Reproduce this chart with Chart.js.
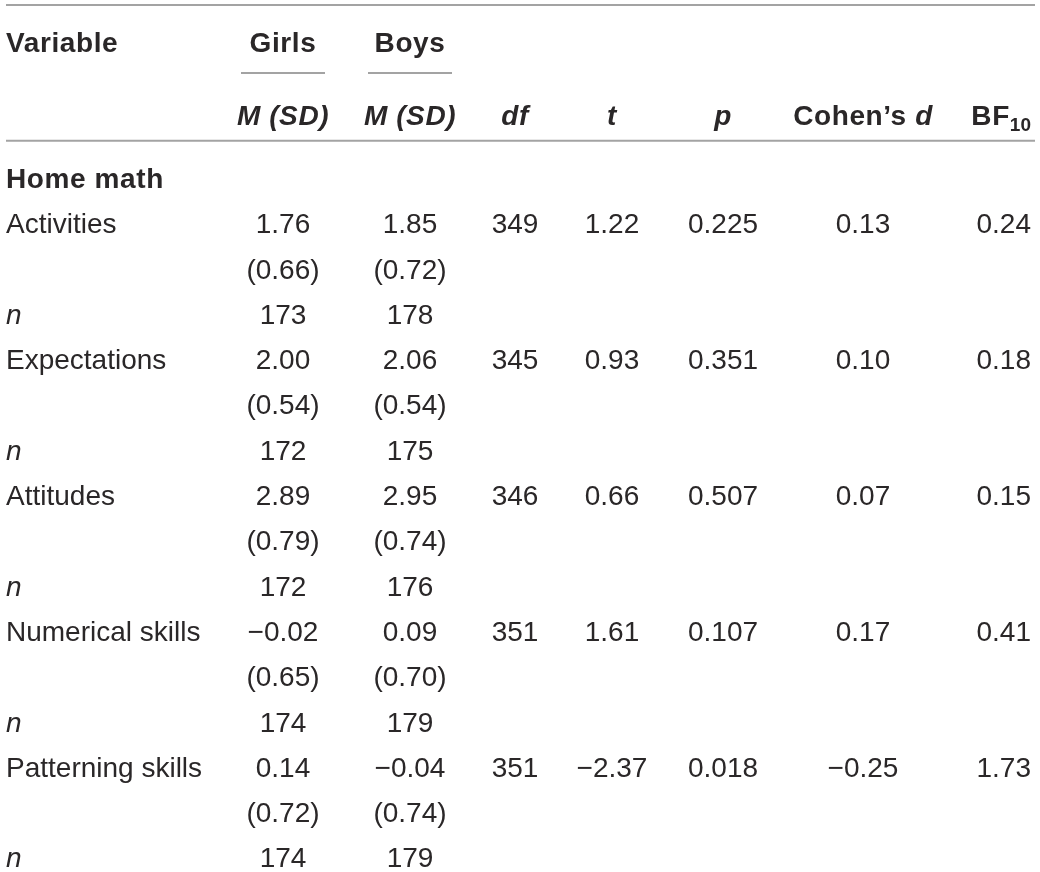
<!DOCTYPE html>
<html>
<head>
<meta charset="utf-8">
<script src="https://cdn.jsdelivr.net/npm/chart.js@4/dist/chart.umd.min.js"></script>
<style>
  html, body { margin: 0; padding: 0; background: #fff; }
  #wrap { width: 1040px; height: 872px; position: relative; }
</style>
</head>
<body>
<div id="wrap"><canvas id="tbl"></canvas></div>
<script>
// table values
const sectionTitle = 'Home math';
const variables = ['Activities', 'Expectations', 'Attitudes', 'Numerical skills', 'Patterning skills'];
const girlsM  = [1.76, 2.00, 2.89, -0.02, 0.14];
const girlsSD = [0.66, 0.54, 0.79, 0.65, 0.72];
const girlsN  = [173, 172, 172, 174, 174];
const boysM   = [1.85, 2.06, 2.95, 0.09, -0.04];
const boysSD  = [0.72, 0.54, 0.74, 0.70, 0.74];
const boysN   = [178, 175, 176, 179, 179];
const dfVals  = [349, 345, 346, 351, 351];
const tVals   = [1.22, 0.93, 0.66, 1.61, -2.37];
const pVals   = [0.225, 0.351, 0.507, 0.107, 0.018];
const cohenD  = [0.13, 0.10, 0.07, 0.17, -0.25];
const bf10    = [0.24, 0.18, 0.15, 0.41, 1.73];

// layout (x in page units, y in row units: body row 0 = "Home math")
const colX = { variable: 6, girls: 283, boys: 410, df: 515, t: 612, p: 723, d: 863, bf: 1031 };
const headY = { groups: -3.0, sub: -1.39 };
const ruleY = { top: -3.82, under: -2.32, head: -0.82 };
const rowStep = 45.3;
const firstRowPx = 178;
const FONT = '"Liberation Sans", Arial, Helvetica, sans-serif';
const SIZE = 28;
const INK = '#2a2728';
const RULE = '#a3a3a3';

const fmt = (v, d) => (v < 0 ? '\u2212' : '') + Math.abs(v).toFixed(d);
const R = (t, style) => ({ t, style: style || '' });

// build the cells column by column
const cols = {
  variable: { align: 'left', cells: [] },
  girls: { align: 'center', cells: [] },
  boys: { align: 'center', cells: [] },
  df: { align: 'center', cells: [] },
  t: { align: 'center', cells: [] },
  p: { align: 'center', cells: [] },
  d: { align: 'center', cells: [] },
  bf: { align: 'right', cells: [] }
};
const add = (key, y, runs) => cols[key].cells.push({ x: colX[key], y, runs });

// header
add('variable', headY.groups, [R('Variable', 'bold')]);
add('girls', headY.groups, [R('Girls', 'bold')]);
add('boys', headY.groups, [R('Boys', 'bold')]);
add('girls', headY.sub, [R('M (SD)', 'italic bold')]);
add('boys', headY.sub, [R('M (SD)', 'italic bold')]);
add('df', headY.sub, [R('df', 'italic bold')]);
add('t', headY.sub, [R('t', 'italic bold')]);
add('p', headY.sub, [R('p', 'italic bold')]);
add('d', headY.sub, [R('Cohen\u2019s ', 'bold'), R('d', 'italic bold')]);
add('bf', headY.sub, [R('BF', 'bold'), { t: '10', style: 'bold', sub: true }]);

// body
add('variable', 0, [R(sectionTitle, 'bold')]);
variables.forEach((name, k) => {
  const r = 1 + k * 3;
  add('variable', r, [R(name)]);
  add('girls', r, [R(fmt(girlsM[k], 2))]);
  add('boys', r, [R(fmt(boysM[k], 2))]);
  add('df', r, [R(String(dfVals[k]))]);
  add('t', r, [R(fmt(tVals[k], 2))]);
  add('p', r, [R(fmt(pVals[k], 3))]);
  add('d', r, [R(fmt(cohenD[k], 2))]);
  add('bf', r, [R(fmt(bf10[k], 2))]);
  add('girls', r + 1, [R('(' + girlsSD[k].toFixed(2) + ')')]);
  add('boys', r + 1, [R('(' + boysSD[k].toFixed(2) + ')')]);
  add('variable', r + 2, [R('n', 'italic')]);
  add('girls', r + 2, [R(String(girlsN[k]))]);
  add('boys', r + 2, [R(String(boysN[k]))]);
});

const textSets = Object.keys(cols).map(key => ({
  label: key,
  data: cols[key].cells,
  align: cols[key].align,
  isText: true,
  pointRadius: 0,
  showLine: false
}));

const ruleSet = (x0, x1, y) => ({
  label: 'rule',
  data: [{ x: x0, y }, { x: x1, y }],
  showLine: true,
  borderColor: RULE,
  borderWidth: 2,
  pointRadius: 0
});

const ruleSets = [
  ruleSet(6, 1035, ruleY.top),
  ruleSet(241, 325, ruleY.under),
  ruleSet(368, 452, ruleY.under),
  ruleSet(6, 1035, ruleY.head)
];

function setFont(ctx, run) {
  const bold = run.style.includes('bold');
  const size = run.sub ? 19 : SIZE;
  ctx.font = `${run.style} ${size}px ${FONT}`.trim();
  ctx.letterSpacing = bold && !run.sub ? '0.6px' : '0px';
}

function drawRuns(ctx, runs, x, y, align) {
  const pieces = runs.map(r => {
    setFont(ctx, r);
    return { r, w: ctx.measureText(r.t).width };
  });
  const total = pieces.reduce((a, p) => a + p.w, 0);
  let cx = align === 'left' ? x : align === 'right' ? x - total : x - total / 2;
  const base = y + SIZE * 0.355;
  pieces.forEach(p => {
    setFont(ctx, p.r);
    ctx.fillText(p.r.t, cx, p.r.sub ? base + 6 : base);
    cx += p.w;
  });
}

const cellText = {
  id: 'cellText',
  afterDatasetsDraw(chart) {
    const ctx = chart.ctx;
    ctx.save();
    ctx.fillStyle = INK;
    ctx.textAlign = 'left';
    ctx.textBaseline = 'alphabetic';
    chart.data.datasets.forEach((ds, i) => {
      if (!ds.isText) return;
      chart.getDatasetMeta(i).data.forEach((el, j) => {
        drawRuns(ctx, ds.data[j].runs, el.x, el.y, ds.align);
      });
    });
    ctx.restore();
  }
};

const yMin = -firstRowPx / rowStep;
const yMax = yMin + 872 / rowStep;

new Chart(document.getElementById('tbl'), {
  type: 'scatter',
  data: { datasets: [...ruleSets, ...textSets] },
  options: {
    responsive: true,
    maintainAspectRatio: false,
    animation: false,
    events: [],
    layout: { padding: 0 },
    plugins: { legend: { display: false }, tooltip: { enabled: false } },
    scales: {
      x: { type: 'linear', min: 0, max: 1040, display: false },
      y: { type: 'linear', min: yMin, max: yMax, reverse: true, display: false }
    }
  },
  plugins: [cellText]
});
</script>
</body>
</html>
